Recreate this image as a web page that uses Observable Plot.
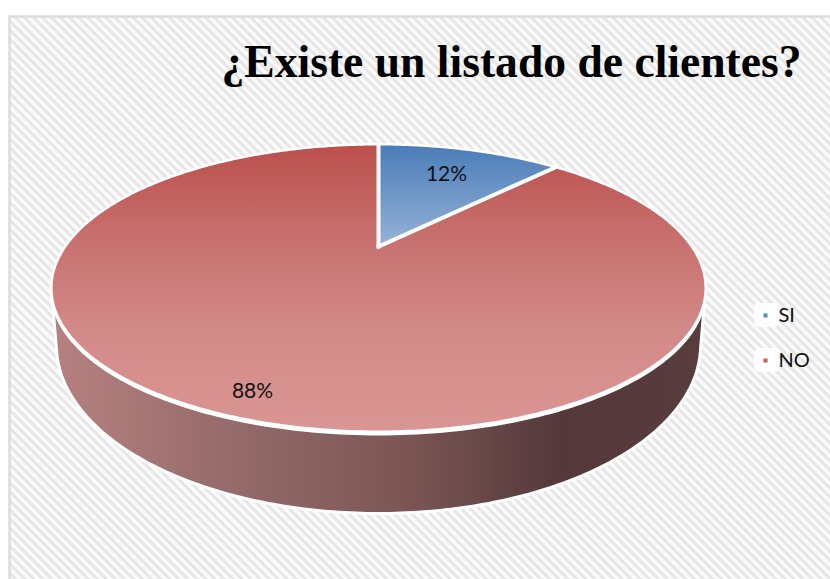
<!DOCTYPE html>
<html>
<head>
<meta charset="utf-8">
<script src="https://cdn.jsdelivr.net/npm/d3@7"></script>
<script src="https://cdn.jsdelivr.net/npm/@observablehq/plot@0.6"></script>
<style>
  html, body { margin: 0; padding: 0; background: #fff; }
  svg { display: block; }
</style>
</head>
<body>
<div id="chart"></div>
<script>
const categories = ["SI", "NO"];
const shares = [12, 88];
const chartTitle = "¿Existe un listado de clientes?";

// Perspective model of the tilted disc, in page pixels around the pie's centre.
const W = 830, H = 579;
const hub = {x: 378, y: 246};
const tilt = 0.289, spanX = 313, spanY = 131.5;
const project = (theta, r = 1) => {
  const w = 1 + tilt * r * Math.cos(theta);
  return {x: spanX * r * Math.sin(theta) / w, y: -spanY * r * Math.cos(theta) / w};
};

// Lower rim of the drum, also relative to the hub.
const rim = {cy: 99, rx: 322, ry: 168};
const ring = (f, n = 360) => d3.range(n).map(i => f(i / n * 2 * Math.PI));

// Slices run clockwise from twelve o'clock; the hub closes each outline.
const total = d3.sum(shares);
let running = 0;
const slices = categories.map((name, i) => {
  const a0 = running / total * 2 * Math.PI;
  running += shares[i];
  const a1 = running / total * 2 * Math.PI;
  const n = Math.max(2, Math.round((a1 - a0) * 90));
  const pts = d3.range(n + 1).map(k => project(a0 + (a1 - a0) * k / n));
  return {name, share: shares[i], a0, pts: [{x: 0, y: 0}, ...pts]};
});
const outline = ring(t => project(t));
const lowerRim = ring(t => ({x: rim.rx * Math.sin(t), y: rim.cy + rim.ry * Math.cos(t)}));
const drum = d3.polygonHull([...outline, ...lowerRim].map(p => [p.x, p.y])).map(([x, y]) => ({x, y}));
const faceBand = outline.map(p => ({x: p.x, y: p.y + 2.5}));
const spokes = slices.flatMap(s => [
  {slice: s.name, x: 0, y: 0},
  {slice: s.name, ...project(s.a0)}
]);

const faceFill = {SI: "url(#faceBlue)", NO: "url(#faceRed)"};
const keyFill = {SI: "#5b8bc6", NO: "#cc5f5b"};
const labelSpot = {SI: {x: 68, y: -72}, NO: {x: -126, y: 145}};
const legendRow = {SI: 69, NO: 114};

const stops = (rows) => rows.map(([o, c]) => `<stop offset="${o}" stop-color="${c}"/>`).join("");

// Shared paint servers: the hatch and the three shaded surfaces.
const paints = () => {
  const g = document.createElementNS("http://www.w3.org/2000/svg", "g");
  g.innerHTML = `<defs>
    <pattern id="hatch" width="6.4" height="6.4" patternUnits="userSpaceOnUse" patternTransform="rotate(45)">
      <rect width="6.4" height="6.4" fill="#fbfbfb"/>
      <rect width="6.4" height="3" fill="#e6e6e6"/>
    </pattern>
    <linearGradient id="faceRed" gradientUnits="userSpaceOnUse" x1="0" y1="144" x2="0" y2="431">
      ${stops([[0, "#bb4f4c"], [0.35, "#c87371"], [0.65, "#d28a88"], [1, "#da9694"]])}
    </linearGradient>
    <linearGradient id="faceBlue" gradientUnits="userSpaceOnUse" x1="0" y1="144" x2="0" y2="246">
      ${stops([[0, "#4a7cb8"], [1, "#95b3d7"]])}
    </linearGradient>
    <linearGradient id="wall" gradientUnits="userSpaceOnUse" x1="55" y1="0" x2="703" y2="0">
      ${stops([[0, "#b58180"], [0.33, "#8f6666"], [0.55, "#7a5554"], [0.68, "#644546"], [0.78, "#54383a"], [1, "#593c3d"]])}
    </linearGradient>
  </defs>`;
  return g;
};

const chart = Plot.plot({
  width: W,
  height: H,
  margin: 0,
  x: {domain: [-hub.x, W - hub.x], range: [0, W], axis: null},
  y: {domain: [-hub.y, H - hub.y], range: [0, H], axis: null},
  marks: [
    paints,
    Plot.frame({fill: "url(#hatch)", stroke: "#dcdcdc", strokeWidth: 2.5, insetLeft: 9, insetTop: 16, insetRight: -6, insetBottom: -6}),
    Plot.line(drum, {x: "x", y: "y", curve: "linear-closed", fill: "url(#wall)", stroke: "#ffffff", strokeWidth: 3, strokeLinejoin: "round"}),
    Plot.line(faceBand, {x: "x", y: "y", curve: "linear-closed", fill: "#ffffff", stroke: "#ffffff", strokeWidth: 3}),
    ...slices.map(s => Plot.line(s.pts, {x: "x", y: "y", curve: "linear-closed", fill: faceFill[s.name], stroke: "#ffffff", strokeWidth: 2})),
    // Wider white seams between the slices.
    Plot.line(spokes, {x: "x", y: "y", z: "slice", stroke: "#ffffff", strokeWidth: 4, strokeLinecap: "square"}),
    Plot.text(slices, {x: d => labelSpot[d.name].x, y: d => labelSpot[d.name].y, text: d => `${d.share}%`, fontFamily: "Lato", fontSize: 21, fill: "#111111"}),
    // Legend: white key patches, tiny square swatches and the category names.
    Plot.rect(categories, {x1: 376, x2: 401, y1: d => legendRow[d] - 12, y2: d => legendRow[d] + 12, fill: "#ffffff", fillOpacity: 0.9, rx: 5}),
    Plot.dot(categories, {x: 387, y: d => legendRow[d], symbol: "square", r: 2.3, fill: d => keyFill[d]}),
    Plot.text(categories, {x: 400, y: d => legendRow[d], text: d => d, textAnchor: "start", fontFamily: "Lato", fontSize: 20, fill: "#111111"}),
    Plot.text([chartTitle], {frameAnchor: "top-left", dx: 221, dy: 44, text: d => d, textAnchor: "start", fontFamily: "Liberation Serif", fontWeight: "bold", fontSize: 45.6, fill: "#000000"})
  ]
});
document.getElementById("chart").append(chart);
</script>
</body>
</html>
